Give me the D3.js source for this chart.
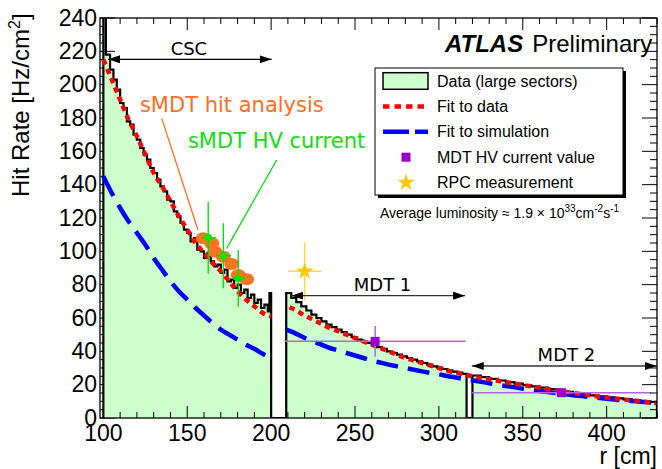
<!DOCTYPE html>
<html>
<head>
<meta charset="utf-8">
<script src="https://cdn.jsdelivr.net/npm/d3@7"></script>
<style>body{margin:0;background:#fff}</style>
</head>
<body>
<script>
/*global d3*/

var width = 662, height = 469;

// histogram of the data, large sectors: bin edges [cm] and rates [Hz/cm2] (0 = no chamber)
var histEdges = [100,101.5,104,106,108,110,112,114,116,118,120,122,124,126,128,130,132,134,136,138,
                 140,142,144,146,148,150,152,154,156,158,160,162,164,166,168,170,172,174,176,178,
                 180,182,184,186,188,190,192,194,196,198,199,200,
                 209,212,215,218,221,224,227,230,233,236,239,242,245,248,251,254,257,260,263,266,
                 269,272,275,278,281,284,287,290,293,296,299,302,305,308,311,314,316.5,
                 320,325,330,335,340,345,350,355,360,365,370,375,380,385,390,395,400,405,410,415,
                 420,425,430];
var histRates = [260,218,209,203,197,189,186,178,176,170,167,162,158,155,150,147,143,139,136,131,
                 130,124,121,117,113,111,106,108,101,100,96,99,94,91,92,87,89,82,83,78,
                 80,75,77,72,74,69,71,66,68,64,75,
                 0,
                 75,72,69.5,67,64.5,62,60,58,56,54.5,53,51.5,50,48.5,47,46,45,44,42.5,41.5,
                 40,39,38,37,36,35,34,33,32,31,30.2,29.4,28.6,27.8,27.2,26.5,
                 0,
                 25.5,24.5,23.5,22.5,21.5,20.6,19.8,19,18.2,17.3,16.5,15.7,15,14.3,13.6,13,
                 12.4,11.8,11.2,10.6,10.1,9.6];

// fit to data
var fitDataCscR = [100,105,110,115,120,125,130,135,140,145,150,155,160,165,170,175,180,185,190,195,200];
var fitDataCscV = [215,203,191,179,169,158,147,139,130,121,113,105,99,93,88,82,76,71,67,63,61];
var fitDataMdtR = [211,215,220,225,230,235,240,245,250,255,260,265,270,275,280,285,290,295,300,305,
                   310,316,320,330,340,350,360,370,380,390,400,410,420,430];
var fitDataMdtV = [66.5,64.5,61.5,59,56.5,54,52,50,48,46,44,42,40,38,36,34.5,33,31.5,30,28.5,
                   27.2,26,25,23.2,21.5,19.8,18.2,16.5,15,13.6,12.3,11.1,10,8.9];

// fit to simulation
var simCscR = [100,105,110,115,120,125,130,135,140,145,150,155,160,165,170,175,180,185,190,195,200];
var simCscV = [145,135,126,118,111,104,96,89,82,76,71,66,61.5,57,53,50,47,44,41.5,38.5,36];
var simMdtR = [209,215,220,225,230,235,240,245,250,255,260,265,270,275,280,285,290,295,300,305,
               310,315,320,330,340,350,360,370,380,390,400,410,420,430];
var simMdtV = [53,50.5,48,46,44,42,40.5,39,37.5,36,34.5,33.3,32,31,30,29,28,27,26.2,25.2,
               24.3,23.4,22.6,20.8,19.2,17.6,16.2,14.9,13.7,12.6,11.5,10.6,9.8,9.0];

// sMDT hit analysis
var smdtHitR = [159.5,164.6,166.5,171.5,176.5,180.4,185.4];
var smdtHitV = [107.8,104.8,99.8,96.8,92.4,85.8,83.2];

// sMDT HV current
var smdtHvR = [162.5,171.5,180.4];
var smdtHvV = [108.2,97.4,83.8];
var smdtHvXErr = [4.5,4.5,4];
var smdtHvYErr = [21.5,19.5,17];

// MDT HV current value
var mdtHvR = [262,373];
var mdtHvV = [46,15.2];
var mdtHvXErr = [54,53.5];
var mdtHvYErr = [9.2,2.5];

// RPC measurement
var rpcR = [220];
var rpcV = [88];
var rpcXErr = [10];
var rpcYErr = [17.5];

var xTicks = [100,150,200,250,300,350,400];
var yTicks = [0,20,40,60,80,100,120,140,160,180,200,220,240];
var legendLabels = ["Data (large sectors)","Fit to data","Fit to simulation","MDT HV current value","RPC measurement"];

var helv = "'Liberation Sans', Arial, sans-serif";
var dejavu = "'DejaVu Sans', sans-serif";

var x = d3.scaleLinear().domain([98, 430]).range([100, 657]);
var y = d3.scaleLinear().domain([0, 240]).range([418, 18]);

var svg = d3.select("body")
    .append("svg")
    .attr("width", width)
    .attr("height", height);

var defs = svg.append("defs");

defs.append("clipPath")
    .attr("id", "plotClip")
    .append("rect")
    .attr("x", x(98)).attr("y", y(240))
    .attr("width", x(430) - x(98)).attr("height", y(0) - y(240));

defs.append("marker")
    .attr("id", "Arrow")
    .attr("viewBox", "0 0 12 8")
    .attr("refX", 12)
    .attr("refY", 4)
    .attr("markerWidth", 12)
    .attr("markerHeight", 8)
    .attr("markerUnits", "userSpaceOnUse")
    .attr("orient", "auto-start-reverse")
    .append("path")
    .attr("d", "M 0 0 L 12 4 L 0 8 z")
    .attr("fill", "#000");

var xMinor = d3.range(100, 431, 10).filter(function(d) { return d % 50 !== 0; });
var yMinor = d3.range(0, 241, 5).filter(function(d) { return d % 20 !== 0; });

// left y ticks sit under the histogram fill
var leftTicks = svg.append("g").attr("stroke", "#000").attr("stroke-width", 1);
yTicks.forEach(function(v) {
    leftTicks.append("line").attr("x1", x(98)).attr("x2", x(98) + 15).attr("y1", y(v)).attr("y2", y(v));
});
yMinor.forEach(function(v) {
    leftTicks.append("line").attr("x1", x(98)).attr("x2", x(98) + 7).attr("y1", y(v)).attr("y2", y(v));
});

var plot = svg.append("g").attr("clip-path", "url(#plotClip)");

// histogram as a step outline
var histPts = [[histEdges[0], 0]];
histRates.forEach(function(v, i) {
    histPts.push([histEdges[i], v]);
    histPts.push([histEdges[i + 1], v]);
});
histPts.push([histEdges[histEdges.length - 1], 0]);

var line = d3.line().x(function(d) { return x(d[0]); }).y(function(d) { return y(d[1]); });

plot.append("path")
    .attr("d", line(histPts))
    .attr("fill", "#ccffcc")
    .attr("stroke", "#000")
    .attr("stroke-width", 2.2)
    .attr("stroke-linejoin", "miter");

var curve = d3.line().curve(d3.curveMonotoneX)
    .x(function(d) { return x(d[0]); }).y(function(d) { return y(d[1]); });

function zip(a, b) { return a.map(function(d, i) { return [d, b[i]]; }); }

[zip(simCscR, simCscV), zip(simMdtR, simMdtV)].forEach(function(pts) {
    plot.append("path").attr("d", curve(pts))
        .attr("fill", "none").attr("stroke", "#0000ff")
        .attr("stroke-width", 4.5).attr("stroke-dasharray", "22,10");
});
[zip(fitDataCscR, fitDataCscV), zip(fitDataMdtR, fitDataMdtV)].forEach(function(pts) {
    plot.append("path").attr("d", curve(pts))
        .attr("fill", "none").attr("stroke", "#ff0000")
        .attr("stroke-width", 4.5).attr("stroke-dasharray", "5.5,4.5");
});

// annotation pointers
svg.append("line")
    .attr("x1", x(134.8)).attr("y1", y(179.8)).attr("x2", x(156.4)).attr("y2", y(112.8))
    .attr("stroke", "#ff6e1e").attr("stroke-width", 1.3);
svg.append("line")
    .attr("x1", x(203.3)).attr("y1", y(154.8)).attr("x2", x(173.5)).attr("y2", y(101.8))
    .attr("stroke", "#00dd00").attr("stroke-width", 1.3);

// sMDT hit analysis
svg.append("g").selectAll("ellipse").data(zip(smdtHitR, smdtHitV)).join("ellipse")
    .attr("cx", function(d) { return x(d[0]); })
    .attr("cy", function(d) { return y(d[1]); })
    .attr("rx", 7.5).attr("ry", 6)
    .attr("fill", "#ff7420");

// error bar helper
function errBars(g, r, v, xe, ye, color, w) {
    r.forEach(function(d, i) {
        g.append("line").attr("x1", x(d - xe[i])).attr("x2", x(d + xe[i]))
            .attr("y1", y(v[i])).attr("y2", y(v[i]))
            .attr("stroke", color).attr("stroke-width", w);
        g.append("line").attr("x1", x(d)).attr("x2", x(d))
            .attr("y1", y(v[i] - ye[i])).attr("y2", y(v[i] + ye[i]))
            .attr("stroke", color).attr("stroke-width", w);
    });
}

var hv = svg.append("g");
errBars(hv, smdtHvR, smdtHvV, smdtHvXErr, smdtHvYErr, "#00dd00", 1.3);
hv.selectAll("circle").data(zip(smdtHvR, smdtHvV)).join("circle")
    .attr("cx", function(d) { return x(d[0]); })
    .attr("cy", function(d) { return y(d[1]); })
    .attr("r", 3.8)
    .attr("fill", "#00e600");

var mdt = svg.append("g");
errBars(mdt, mdtHvR, mdtHvV, mdtHvXErr, mdtHvYErr, "#b366e0", 1.5);
mdt.selectAll("rect").data(zip(mdtHvR, mdtHvV)).join("rect")
    .attr("x", function(d) { return x(d[0]) - 4.5; })
    .attr("y", function(d) { return y(d[1]) - 4.5; })
    .attr("width", 9).attr("height", 9)
    .attr("fill", "#9900cc");

var star = d3.symbol().type(d3.symbolStar).size(95);
var rpc = svg.append("g");
errBars(rpc, rpcR, rpcV, rpcXErr, rpcYErr, "#ffd84a", 1.5);
rpc.selectAll("path").data(zip(rpcR, rpcV)).join("path")
    .attr("d", star)
    .attr("transform", function(d) { return "translate(" + x(d[0]) + "," + y(d[1]) + ")"; })
    .attr("fill", "#ffc800");

// chamber arrows
function chamber(label, r0, r1, level, lr, lv, color) {
    svg.append("line")
        .attr("x1", x(r0)).attr("x2", x(r1)).attr("y1", y(level)).attr("y2", y(level))
        .attr("stroke", color).attr("stroke-width", 1.3)
        .attr("marker-start", "url(#Arrow)").attr("marker-end", "url(#Arrow)");
    svg.append("text").attr("x", x(lr)).attr("y", y(lv))
        .attr("text-anchor", "middle")
        .style("font-family", dejavu).style("font-size", "18px")
        .text(label);
}
chamber("CSC", 102.8, 200.3, 215.2, 151, 217.8, "#000");
chamber("MDT 1", 212, 315.6, 73.4, 266.4, 76.2, "#333");
chamber("MDT 2", 319.6, 430, 31.2, 376, 34.2, "#333");

// axes: bottom, top, right ticks drawn over the histogram
var ticks = svg.append("g").attr("stroke", "#000").attr("stroke-width", 1);
xTicks.forEach(function(r) {
    ticks.append("line").attr("x1", x(r)).attr("x2", x(r)).attr("y1", y(0)).attr("y2", y(0) - 12);
    ticks.append("line").attr("x1", x(r)).attr("x2", x(r)).attr("y1", y(240)).attr("y2", y(240) + 12);
});
xMinor.forEach(function(r) {
    ticks.append("line").attr("x1", x(r)).attr("x2", x(r)).attr("y1", y(0)).attr("y2", y(0) - 6);
    ticks.append("line").attr("x1", x(r)).attr("x2", x(r)).attr("y1", y(240)).attr("y2", y(240) + 6);
});
yTicks.forEach(function(v) {
    ticks.append("line").attr("x1", x(430)).attr("x2", x(430) - 15).attr("y1", y(v)).attr("y2", y(v));
});
yMinor.forEach(function(v) {
    ticks.append("line").attr("x1", x(430)).attr("x2", x(430) - 7).attr("y1", y(v)).attr("y2", y(v));
});

svg.append("rect")
    .attr("x", x(98)).attr("y", y(240))
    .attr("width", x(430) - x(98)).attr("height", y(0) - y(240))
    .attr("fill", "none").attr("stroke", "#000").attr("stroke-width", 1.3);

svg.append("g").selectAll("text").data(xTicks).join("text")
    .attr("x", function(d) { return x(d); })
    .attr("y", 441)
    .attr("text-anchor", "middle")
    .style("font-family", helv).style("font-size", "23px")
    .text(function(d) { return d; });

svg.append("g").selectAll("text").data(yTicks).join("text")
    .attr("x", 97)
    .attr("y", function(d) { return y(d) + 7.5; })
    .attr("text-anchor", "end")
    .style("font-family", helv).style("font-size", "23px")
    .text(function(d) { return d; });

svg.append("text")
    .attr("x", 657).attr("y", 464)
    .attr("text-anchor", "end")
    .style("font-family", helv).style("font-size", "23px")
    .text("r [cm]");

var yTitle = svg.append("text")
    .attr("transform", "translate(29,197) rotate(-90)")
    .style("font-family", helv).style("font-size", "24px");
yTitle.append("tspan").text("Hit Rate [Hz/cm");
yTitle.append("tspan").attr("dy", -9).style("font-size", "16px").text("2");
yTitle.append("tspan").attr("dy", 9).text("]");

// labels
svg.append("text").attr("x", x(121.8)).attr("y", y(183.6))
    .style("font-family", dejavu).style("font-size", "21px").attr("fill", "#ff6e1e")
    .text("sMDT hit analysis");
svg.append("text").attr("x", x(150.4)).attr("y", y(162))
    .style("font-family", dejavu).style("font-size", "21px").attr("fill", "#11dd11")
    .text("sMDT HV current");

var atlas = svg.append("text").attr("x", 445).attr("y", 52)
    .style("font-family", helv).style("font-size", "24px");
atlas.append("tspan").style("font-weight", "bold").style("font-style", "italic").text("ATLAS");
atlas.append("tspan").attr("dx", 9).text("Preliminary");

// legend
var lg = svg.append("g");
lg.append("rect").attr("x", 378).attr("y", 71).attr("width", 248).attr("height", 127).attr("fill", "#000");
lg.append("rect").attr("x", 375).attr("y", 68).attr("width", 248).attr("height", 127)
    .attr("fill", "#fff").attr("stroke", "#000").attr("stroke-width", 1);

legendLabels.forEach(function(t, i) {
    var cy = 81 + i * 25.4;
    lg.append("text").attr("x", 437).attr("y", cy + 5.5)
        .style("font-family", helv).style("font-size", "16px").text(t);
    if (i === 0) {
        lg.append("rect").attr("x", 383).attr("y", cy - 8.3).attr("width", 45).attr("height", 16.6)
            .attr("fill", "#ccffcc").attr("stroke", "#000").attr("stroke-width", 1.5);
    } else if (i === 1) {
        lg.append("line").attr("x1", 383).attr("x2", 428).attr("y1", cy).attr("y2", cy)
            .attr("stroke", "#ff0000").attr("stroke-width", 4.5).attr("stroke-dasharray", "6.5,5");
    } else if (i === 2) {
        lg.append("line").attr("x1", 383).attr("x2", 428).attr("y1", cy).attr("y2", cy)
            .attr("stroke", "#0000ff").attr("stroke-width", 4.5).attr("stroke-dasharray", "26,6");
    } else if (i === 3) {
        lg.append("rect").attr("x", 406 - 4.5).attr("y", cy - 4.5).attr("width", 9).attr("height", 9)
            .attr("fill", "#9900cc");
    } else {
        lg.append("path").attr("d", star).attr("transform", "translate(406," + cy + ")")
            .attr("fill", "#ffc800");
    }
});

var lumi = svg.append("text").attr("x", 380).attr("y", 218)
    .style("font-family", helv).style("font-size", "14px");
lumi.append("tspan").text("Average luminosity \u2248 1.9 \u00d7 10");
lumi.append("tspan").attr("dy", -6).style("font-size", "10px").text("33");
lumi.append("tspan").attr("dy", 6).text("cm");
lumi.append("tspan").attr("dy", -6).style("font-size", "10px").text("-2");
lumi.append("tspan").attr("dy", 6).text("s");
lumi.append("tspan").attr("dy", -6).style("font-size", "10px").text("-1");
</script>
</body>
</html>
